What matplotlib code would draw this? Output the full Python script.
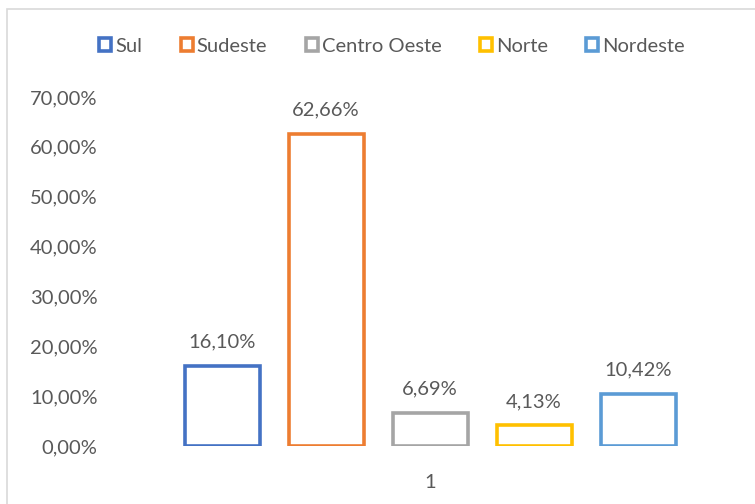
import matplotlib
matplotlib.use("Agg")
import matplotlib.pyplot as plt
from matplotlib.patches import Patch, Rectangle

categories = ["1"]
series = ["Sul", "Sudeste", "Centro Oeste", "Norte", "Nordeste"]
values = [16.10, 62.66, 6.69, 4.13, 10.42]
colors = ["#4472C4", "#ED7D31", "#A5A5A5", "#FFC000", "#5B9BD5"]
yticks = [0, 10, 20, 30, 40, 50, 60, 70]

plt.rcParams['font.family'] = ['Lato', 'DejaVu Sans']
txt = "#595959"
fs = 14.5

fig = plt.figure(figsize=(7.55, 5.04), dpi=100)
# chart border
fig.patches.append(Rectangle((7/755, -0.1), 1.2, 1 - 9/504 + 0.1, transform=fig.transFigure,
                             facecolor="none", edgecolor="#d9d9d9", linewidth=1.2))
ax = fig.add_axes([110/755, 58/504, 640/755, 349/504])

bw = 78/640
step = 104/640
n = len(series)
for i, (s, v, c) in enumerate(zip(series, values, colors)):
    x = (i - (n - 1) / 2) * step
    ax.bar(x, v, width=bw - 3/640, facecolor="white", edgecolor=c, linewidth=2.6, label=s)
    ax.annotate(f"{v:.2f}%".replace(".", ","), (x, v), xytext=(0, 11), textcoords="offset points",
                ha="center", va="bottom", fontsize=fs, color=txt)

ax.set_xlim(-0.5, 0.5)
ax.set_ylim(0, 70)
ax.set_yticks(yticks)
ax.set_yticklabels([f"{t:.2f}%".replace(".", ",") for t in yticks])
ax.set_xticks([0])
ax.set_xticklabels(categories)
ax.tick_params(axis="both", length=0, labelsize=fs, labelcolor=txt)
ax.tick_params(axis="y", pad=9)
ax.tick_params(axis="x", pad=20)
for sp in ax.spines.values():
    sp.set_visible(False)

handles = [Patch(facecolor="white", edgecolor=c, linewidth=2.6, label=s) for s, c in zip(series, colors)]
leg = fig.legend(handles=handles, loc="center", bbox_to_anchor=(392/755, 1 - 46/504), ncol=5,
                 frameon=False, fontsize=fs, handlelength=0.6, handleheight=0.6,
                 handletextpad=0.2, columnspacing=1.9, labelcolor=txt)

fig.savefig("out.png", dpi=100, facecolor="white")
